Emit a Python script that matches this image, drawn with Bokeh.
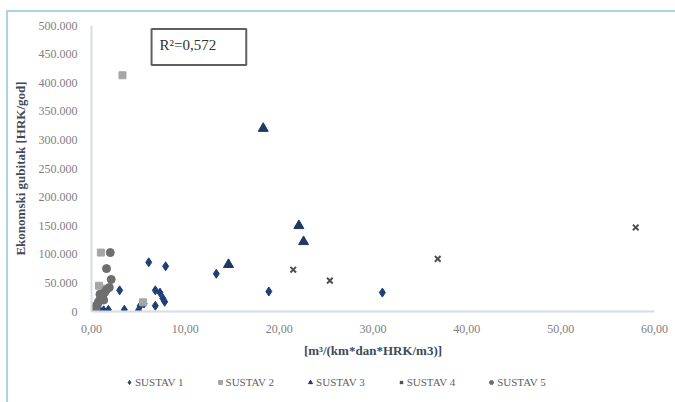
from bokeh.plotting import figure
from bokeh.layouts import column
from bokeh.models import FixedTicker, Label, Legend, LegendItem, Range1d
from bokeh.embed import file_html
from bokeh.resources import INLINE

# --- data -------------------------------------------------------------
s1_x = [0.9, 1.3, 1.8, 3.0, 3.5, 5.0, 5.2, 5.6, 6.1, 6.8, 6.8, 7.3, 7.6, 7.8, 7.9, 13.3, 18.9, 31.0]
s1_y = [2000, 2000, 3000, 37000, 3000, 2000, 10000, 14000, 86000, 10000, 37000, 33000, 23000, 17000, 79000, 66000, 35000, 33000]

s2_x = [0.1, 0.3, 0.5, 0.7, 1.0, 1.2, 0.8, 5.5, 1.0, 3.3]
s2_y = [500, 3000, 9000, 15000, 22000, 40000, 45000, 16000, 103000, 413000]

s3_x = [14.6, 18.3, 22.1, 22.6]
s3_y = [82000, 320000, 150000, 122000]

s4_x = [21.5, 25.4, 36.9, 58.0]
s4_y = [73000, 54000, 92000, 147000]

s5_x = [0.2, 0.4, 0.6, 0.8, 1.0, 1.2, 1.4, 1.6, 1.9, 2.1, 1.6, 2.0, 0.9, 1.3]
s5_y = [1000, 6000, 12000, 18000, 24000, 29000, 33000, 38000, 42000, 56000, 75000, 103000, 30000, 20000]

series_names = ["SUSTAV 1", "SUSTAV 2", "SUSTAV 3", "SUSTAV 4", "SUSTAV 5"]

x_ticks = [0, 10, 20, 30, 40, 50, 60]
x_tick_labels = ["0,00", "10,00", "20,00", "30,00", "40,00", "50,00", "60,00"]
y_ticks = [0, 50000, 100000, 150000, 200000, 250000, 300000, 350000, 400000, 450000, 500000]
y_tick_labels = ["0", "50.000", "100.000", "150.000", "200.000", "250.000",
                 "300.000", "350.000", "400.000", "450.000", "500.000"]

r2_text = "R\u00b2=0,572"

FONT = "Liberation Serif"
FRAME_LINE = "#a8d4e0"
W = 667

# marker style per series
styles = [
    dict(marker="diamond", size=9, fill_color="#1f3f78", line_color="#1f3f78"),
    dict(marker="square", size=7, fill_color="#a6a6a6", line_color="#a6a6a6"),
    dict(marker="triangle", size=10, fill_color="#1f3864", line_color="#1f3864"),
    dict(marker="x", size=8, line_color="#505050", line_width=2),
    dict(marker="circle", size=8, fill_color="#6e6e6e", line_color="#6e6e6e"),
]
series = [(s1_x, s1_y), (s2_x, s2_y), (s3_x, s3_y), (s4_x, s4_y), (s5_x, s5_y)]

p = figure(
    width=W, height=350,
    x_range=(0, 60), y_range=(0, 500000),
    output_backend="svg", toolbar_location=None,
    min_border_left=83, min_border_right=W - 646,
    min_border_top=13, min_border_bottom=51,
)
p.outline_line_color = None
p.grid.visible = False
p.background_fill_color = "white"
p.border_fill_color = "white"

# axes
for ax in (p.xaxis[0], p.yaxis[0]):
    ax.major_tick_line_color = None
    ax.minor_tick_line_color = None
    ax.axis_line_color = "#d5dde8"
    ax.axis_line_width = 2
    ax.major_label_text_font = FONT
    ax.major_label_text_font_size = "12px"
    ax.major_label_text_color = "#808080"
    ax.axis_label_text_font = FONT
    ax.axis_label_text_font_style = "bold"
    ax.axis_label_text_font_size = "13px"
    ax.axis_label_text_color = "#404a5a"

p.xaxis.ticker = FixedTicker(ticks=x_ticks)
p.xaxis.major_label_overrides = dict(zip(x_ticks, x_tick_labels))
p.xaxis.major_label_standoff = 7
p.xaxis.axis_label = "[m\u00b3/(km*dan*HRK/m3)]"
p.xaxis.axis_label_standoff = 7

p.yaxis.ticker = FixedTicker(ticks=y_ticks)
p.yaxis.major_label_standoff = 8
p.yaxis.major_label_overrides = dict(zip(y_ticks, y_tick_labels))
p.yaxis.axis_label = "Ekonomski gubitak [HRK/god]"
p.yaxis.axis_label_standoff = 8

for (xs, ys), st in zip(series, styles):
    p.scatter(xs, ys, **st)

# R² annotation box
p.add_layout(Label(
    x=6.4, y=494000, anchor="top_left", text=r2_text,
    text_font=FONT, text_font_size="15px", text_color="#303030",
    border_line_color="#606060", border_line_width=2,
    background_fill_color="white",
    padding=(8, 30, 8, 12),
))

# legend strip under the chart: same series, ranges kept off the data so
# only the legend swatches show
lp = figure(
    width=W, height=40,
    x_range=Range1d(-2, -1), y_range=Range1d(-2, -1),
    output_backend="svg", toolbar_location=None,
    min_border=0, x_axis_type=None, y_axis_type=None,
)
lp.outline_line_color = None
lp.grid.visible = False
legend_renderers = [lp.scatter(xs, ys, **st) for (xs, ys), st in zip(series, styles)]

legend = Legend(
    items=[LegendItem(label=n, renderers=[r]) for n, r in zip(series_names, legend_renderers)],
    orientation="horizontal",
    location=(33, 14),
    border_line_color=None,
    background_fill_alpha=0,
    label_text_font=FONT,
    label_text_font_size="11px",
    label_text_color="#606060",
    glyph_width=10, glyph_height=10,
    label_standoff=1, spacing=31, padding=0, margin=0,
)
lp.add_layout(legend, "center")

layout = column(
    p, lp, spacing=0,
    margin=(10, 0, 0, 6),
    styles={"border-top": f"2px solid {FRAME_LINE}", "border-left": f"2px solid {FRAME_LINE}"},
)

open("out.html", "w").write(file_html(layout, INLINE))
